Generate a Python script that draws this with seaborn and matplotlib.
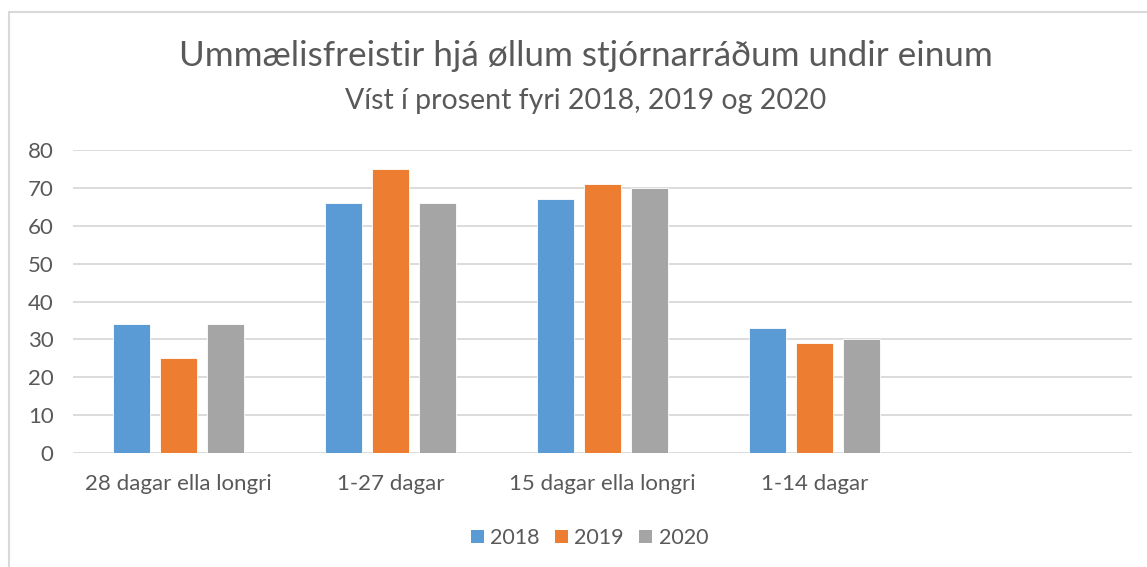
import pandas as pd
import matplotlib.pyplot as plt
import seaborn as sns
from matplotlib.lines import Line2D
from matplotlib.patches import Patch

# ================================
# Data
# ================================
categories = ["28 dagar ella longri", "1-27 dagar", "15 dagar ella longri", "1-14 dagar"]
years = ["2018", "2019", "2020"]
v2018 = [34, 66, 67, 33]
v2019 = [25, 75, 71, 29]
v2020 = [34, 66, 70, 30]
colors = ["#5B9BD5", "#ED7D31", "#A5A5A5"]

df = pd.DataFrame({
    "cat": categories * 3,
    "year": [y for y in years for _ in categories],
    "value": v2018 + v2019 + v2020,
})

# ================================
# Plot
# ================================
sns.set_style("white")
plt.rcParams["font.family"] = ["Lato", "DejaVu Sans"]
text_col = "#595959"
grid_col = "#D9D9D9"

fig = plt.figure(figsize=(11.47, 5.67), dpi=100)
ax = fig.add_axes([0.0636, 0.201, 0.9234, 0.5344])

# empty 5th slot, like the Excel chart
order = categories + [" "]
sns.barplot(data=df, x="cat", y="value", hue="year", order=order,
            palette=colors, saturation=1, width=0.665, gap=0.21, ax=ax,
            edgecolor="white", linewidth=0.6, legend=False, zorder=3)

ax.set_ylim(0, 80)
ax.set_xlim(-0.5, 4.5)
ax.set_yticks(range(0, 81, 10))
ax.yaxis.grid(True, color=grid_col, linewidth=1.3, zorder=0)
ax.set_axisbelow(True)
for s in ax.spines.values():
    s.set_visible(False)
ax.set_xlabel("")
ax.set_ylabel("")
ax.tick_params(axis="both", length=0, labelsize=16, colors=text_col)
ax.tick_params(axis="y", pad=14)
ax.tick_params(axis="x", pad=15)

fig.text(0.511, 0.902, "Ummælisfreistir hjá øllum stjórnarráðum undir einum",
         ha="center", va="center", fontsize=25.3, color=text_col)
fig.text(0.511, 0.822, "Víst í prosent fyri 2018, 2019 og 2020",
         ha="center", va="center", fontsize=20.5, color=text_col)

handles = [Patch(facecolor=c, edgecolor="none") for c in colors]
fig.legend(handles, years, loc="center", bbox_to_anchor=(0.514, 0.051),
           ncol=3, frameon=False, fontsize=15.5, handlelength=0.6,
           handleheight=0.6, handletextpad=0.3, columnspacing=0.7,
           labelcolor=text_col)

# chart border (left and top only are visible in the crop)
fig.add_artist(Line2D([9 / 1147, 9 / 1147], [0, 1 - 12 / 567],
                      transform=fig.transFigure, color=grid_col, linewidth=1.5))
fig.add_artist(Line2D([9 / 1147, 1], [1 - 12 / 567, 1 - 12 / 567],
                      transform=fig.transFigure, color=grid_col, linewidth=1.5))

fig.savefig("out.png", dpi=100, facecolor="white")
